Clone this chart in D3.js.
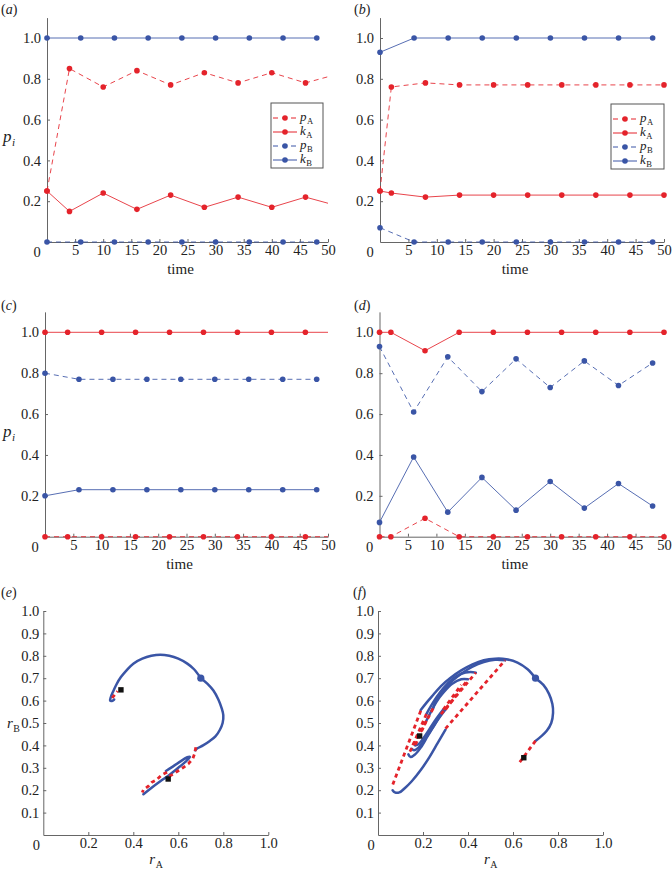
<!DOCTYPE html>
<html lang="en">
<head>
<meta charset="utf-8">
<title>strategy dynamics</title>
<script src="https://d3js.org/d3.v7.min.js"></script>
<style>
  body { margin: 0; background: #fff; }
  svg text { font-family: "Liberation Serif", "Times New Roman", "DejaVu Serif", serif; fill: #222; }
</style>
</head>
<body>
<svg id="chart" width="672" height="874"></svg>
<script>
// ---- time series data ----
var timeRed1 = [0, 4, 10, 16, 22, 28, 34, 40, 46, 50];
var timeRed2 = [0, 2, 8, 14, 20, 26, 32, 38, 44, 50];
var timeBlue = [0, 6, 12, 18, 24, 30, 36, 42, 48];

// (a)
var pA_a = [0.25, 0.85, 0.76, 0.84, 0.77, 0.83, 0.78, 0.83, 0.78, 0.81];
var kA_a = [0.25, 0.15, 0.24, 0.16, 0.23, 0.17, 0.22, 0.17, 0.22, 0.19];
var pB_a = [0, 0, 0, 0, 0, 0, 0, 0, 0];
var kB_a = [1, 1, 1, 1, 1, 1, 1, 1, 1];
// (b)
var pA_b = [0.25, 0.76, 0.78, 0.77, 0.77, 0.77, 0.77, 0.77, 0.77, 0.77];
var kA_b = [0.25, 0.24, 0.22, 0.23, 0.23, 0.23, 0.23, 0.23, 0.23, 0.23];
var pB_b = [0.07, 0, 0, 0, 0, 0, 0, 0, 0];
var kB_b = [0.93, 1, 1, 1, 1, 1, 1, 1, 1];
// (c)
var pA_c = [0, 0, 0, 0, 0, 0, 0, 0, 0, 0];
var kA_c = [1, 1, 1, 1, 1, 1, 1, 1, 1, 1];
var pB_c = [0.80, 0.77, 0.77, 0.77, 0.77, 0.77, 0.77, 0.77, 0.77];
var kB_c = [0.20, 0.23, 0.23, 0.23, 0.23, 0.23, 0.23, 0.23, 0.23];
// (d)
var pA_d = [0, 0, 0.09, 0, 0, 0, 0, 0, 0, 0];
var kA_d = [1, 1, 0.91, 1, 1, 1, 1, 1, 1, 1];
var pB_d = [0.93, 0.61, 0.88, 0.71, 0.87, 0.73, 0.86, 0.74, 0.85];
var kB_d = [0.07, 0.39, 0.12, 0.29, 0.13, 0.27, 0.14, 0.26, 0.15];

var timeTicks = [5, 10, 15, 20, 25, 30, 35, 40, 45, 50];
var pTicks = [0.2, 0.4, 0.6, 0.8, 1.0];
var rATicks = [0.2, 0.4, 0.6, 0.8, 1.0];
var rBTicks = [0.1, 0.2, 0.3, 0.4, 0.5, 0.6, 0.7, 0.8, 0.9, 1.0];

// ---- phase plane data, [rA, rB] ----
var startPoint = [0.70, 0.70];
// (e)
var eBlue = [
  [[0.70,0.70],[0.67,0.74],[0.64,0.765],[0.60,0.787],[0.56,0.80],[0.52,0.805],[0.48,0.80],[0.44,0.787],[0.40,0.765],[0.37,0.735],[0.345,0.705],[0.325,0.672],[0.31,0.64],[0.30,0.615],[0.297,0.60],[0.305,0.598],[0.315,0.605]],
  [[0.70,0.70],[0.73,0.675],[0.756,0.645],[0.778,0.605],[0.793,0.565],[0.80,0.535],[0.797,0.50],[0.785,0.47],[0.765,0.44],[0.74,0.42],[0.71,0.40],[0.685,0.387],[0.675,0.378]],
  [[0.445,0.182],[0.48,0.21],[0.52,0.24],[0.56,0.268],[0.60,0.30],[0.63,0.325],[0.652,0.348],[0.64,0.347],[0.60,0.322],[0.57,0.302],[0.545,0.286]]
];
var eRed = [
  [[0.306,0.612],[0.322,0.632],[0.33,0.642]],
  [[0.678,0.392],[0.672,0.362],[0.665,0.342],[0.645,0.318],[0.62,0.30],[0.60,0.287],[0.578,0.272],[0.56,0.262]],
  [[0.55,0.28],[0.526,0.268],[0.504,0.247],[0.482,0.235],[0.467,0.218],[0.445,0.202],[0.44,0.19]]
];
var eSquares = [[0.345,0.648],[0.555,0.25]];
// (f)
var fBlue = [
  [[0.70,0.70],[0.735,0.67],[0.76,0.63],[0.775,0.585],[0.778,0.545],[0.77,0.50],[0.75,0.465],[0.725,0.44],[0.70,0.42]],
  [[0.70,0.70],[0.665,0.74],[0.62,0.77],[0.57,0.785],[0.52,0.787],[0.47,0.78],[0.42,0.762],[0.37,0.735],[0.32,0.70],[0.28,0.665],[0.245,0.625],[0.215,0.59],[0.19,0.558]],
  [[0.065,0.20],[0.075,0.19],[0.095,0.19],[0.12,0.21],[0.15,0.24],[0.19,0.29],[0.23,0.35],[0.265,0.41],[0.30,0.47]],
  [[0.565,0.78],[0.52,0.782],[0.47,0.772],[0.42,0.752],[0.37,0.72],[0.33,0.688],[0.29,0.645],[0.26,0.605],[0.245,0.565]],
  [[0.135,0.36],[0.145,0.348],[0.165,0.36],[0.19,0.39],[0.22,0.44],[0.25,0.49],[0.28,0.54]],
  [[0.435,0.725],[0.41,0.728],[0.37,0.72],[0.33,0.695],[0.29,0.655],[0.26,0.615],[0.235,0.575],[0.215,0.54]],
  [[0.15,0.385],[0.16,0.378],[0.18,0.39],[0.21,0.43],[0.24,0.475],[0.27,0.52],[0.30,0.56]],
  [[0.40,0.695],[0.37,0.695],[0.33,0.675],[0.29,0.635],[0.26,0.595],[0.235,0.55],[0.215,0.51]],
  [[0.165,0.40],[0.18,0.405],[0.20,0.43],[0.23,0.475],[0.26,0.52],[0.29,0.56]]
];
var fRed = [
  [[0.70,0.42],[0.63,0.325]],
  [[0.19,0.555],[0.062,0.215]],
  [[0.30,0.475],[0.565,0.78]],
  [[0.245,0.565],[0.135,0.36]],
  [[0.28,0.54],[0.435,0.725]],
  [[0.215,0.54],[0.15,0.39]],
  [[0.30,0.56],[0.40,0.695]],
  [[0.215,0.51],[0.165,0.40]],
  [[0.29,0.56],[0.37,0.67]]
];
var fSquares = [[0.648,0.345],[0.185,0.442]];

var RED = "#e4232b", BLUE = "#3a55a6", AXIS = "#666";
var FONT = '"Liberation Serif", "Times New Roman", "DejaVu Serif", serif';
var svg = d3.select("#chart");

// italic symbol with a smaller subscript, as two separate text nodes
function subLabel(g, x, y, main, sub, size, subItalic) {
  var m = g.append("text").attr("x", x).attr("y", y).style("font-size", size + "px")
    .style("font-family", FONT).style("font-style", "italic").text(main);
  var w = m.node().getComputedTextLength();
  g.append("text").attr("x", x + w + 0.5).attr("y", y + size * 0.25).style("font-size", (size * 0.66) + "px")
    .style("font-family", FONT).style("font-style", subItalic ? "italic" : "normal").text(sub);
}

function panelLetter(x, y, letter) {
  var t = svg.append("text").attr("x", x).attr("y", y).style("font-size", "14px").style("font-family", FONT);
  t.append("tspan").text("(");
  t.append("tspan").style("font-style", "italic").text(letter);
  t.append("tspan").text(")");
}

function styleAxis(a) {
  a.attr("font-family", null);
  a.selectAll("path, line").attr("stroke", AXIS);
  a.selectAll("text").style("font-size", "14.5px").attr("fill", "#222").style("font-family", FONT);
}

function timePanel(cfg) {
  var x = d3.scaleLinear().domain([0, 50]).range([cfg.x0, cfg.x1]);
  var y = d3.scaleLinear().domain([0, 1]).range([cfg.y0, cfg.y1]);
  var g = svg.append("g");

  styleAxis(g.append("g").attr("transform", "translate(0," + cfg.y0 + ")")
    .call(d3.axisBottom(x).tickValues(timeTicks).tickSizeInner(-3).tickSizeOuter(0).tickPadding(3)));
  styleAxis(g.append("g").attr("transform", "translate(" + cfg.x0 + ",0)")
    .call(d3.axisLeft(d3.scaleLinear().domain([0, 1.1]).range([cfg.y0, y(1.1)]))
      .tickValues(pTicks).tickFormat(d3.format(".1f")).tickSizeInner(-3).tickSizeOuter(0).tickPadding(6)));
  g.append("text").attr("x", cfg.x0 - 10).attr("y", cfg.y0 + 15).attr("text-anchor", "middle")
    .style("font-size", "14.5px").style("font-family", FONT).text("0");
  g.append("text").attr("x", (cfg.x0 + cfg.x1) / 2 - 7).attr("y", cfg.y0 + 32).attr("text-anchor", "middle")
    .style("font-size", "15px").style("font-family", FONT).text("time");
  if (cfg.ylabel) subLabel(g, 3, (cfg.y0 + cfg.y1) / 2 + 2, "p", "i", 17, true);

  var line = d3.line().x(function(d) { return x(d[0]); }).y(function(d) { return y(d[1]); });
  cfg.series.forEach(function(s) {
    var pts = s.t.map(function(t, i) { return [t, s.v[i]]; });
    g.append("path").datum(pts).attr("d", line).attr("fill", "none")
      .attr("stroke", s.color).attr("stroke-width", 1)
      .attr("stroke-dasharray", s.dashed ? "5,4" : null).attr("opacity", 0.85);
    var marks = pts.filter(function(d, i) { return !(s.t.length === 10 && i === 9 && !cfg.tailMarker); });
    g.selectAll(null).data(marks).enter().append("circle")
      .attr("cx", function(d) { return x(d[0]); }).attr("cy", function(d) { return y(d[1]); })
      .attr("r", 2.8).attr("fill", s.color);
  });

  if (cfg.legend) {
    var L = cfg.legend;
    var lg = g.append("g").attr("transform", "translate(" + L.x + "," + L.y + ")");
    lg.append("rect").attr("width", L.w).attr("height", 65).attr("fill", "#fff").attr("stroke", "#555").attr("stroke-width", 1);
    var items = [["p", "A", RED, true], ["k", "A", RED, false], ["p", "B", BLUE, true], ["k", "B", BLUE, false]];
    items.forEach(function(it, i) {
      var yy = 15 + i * 14;
      lg.append("line").attr("x1", 2).attr("x2", 26).attr("y1", yy).attr("y2", yy)
        .attr("stroke", it[2]).attr("stroke-width", 1).attr("stroke-dasharray", it[3] ? "5,4" : null);
      lg.append("circle").attr("cx", 14).attr("cy", yy).attr("r", 2.8).attr("fill", it[2]);
      subLabel(lg, 29, yy + 3, it[0], it[1], 13, false);
    });
  }
}

function phasePanel(cfg) {
  var x = d3.scaleLinear().domain([0, 1]).range([cfg.x0, cfg.x0 + 225]);
  var y = d3.scaleLinear().domain([0, 1]).range([835, 611]);
  var g = svg.append("g");
  styleAxis(g.append("g").attr("transform", "translate(0,835)")
    .call(d3.axisBottom(x).tickValues(rATicks).tickFormat(d3.format(".1f")).tickSizeInner(-3).tickSizeOuter(0).tickPadding(3)));
  styleAxis(g.append("g").attr("transform", "translate(" + cfg.x0 + ",0)")
    .call(d3.axisLeft(y).tickValues(rBTicks).tickFormat(d3.format(".1f")).tickSizeInner(-3).tickSizeOuter(0).tickPadding(4)));
  g.append("text").attr("x", cfg.x0 - 7).attr("y", 850).attr("text-anchor", "middle")
    .style("font-size", "14.5px").style("font-family", FONT).text("0");
  subLabel(g, cfg.x0 + 106, 864, "r", "A", 15, false);
  if (cfg.ylabel) subLabel(g, 7, 728, "r", "B", 15, false);

  var curve = d3.line().x(function(d) { return x(d[0]); }).y(function(d) { return y(d[1]); }).curve(d3.curveCatmullRom);
  var straight = d3.line().x(function(d) { return x(d[0]); }).y(function(d) { return y(d[1]); });
  cfg.blue.forEach(function(p) {
    g.append("path").datum(p).attr("d", curve).attr("fill", "none").attr("stroke", BLUE)
      .attr("stroke-width", 2.5).attr("stroke-linecap", "round");
  });
  cfg.red.forEach(function(p) {
    g.append("path").datum(p).attr("d", straight).attr("fill", "none").attr("stroke", RED)
      .attr("stroke-width", 2.8).attr("stroke-dasharray", "4,3.5");
  });
  g.append("circle").attr("cx", x(startPoint[0])).attr("cy", y(startPoint[1])).attr("r", 3.6).attr("fill", BLUE);
  g.selectAll(null).data(cfg.squares).enter().append("rect")
    .attr("x", function(d) { return x(d[0]) - 2.7; }).attr("y", function(d) { return y(d[1]) - 2.7; })
    .attr("width", 5.4).attr("height", 5.4).attr("fill", "#111");
}

function seriesSet(tRed, pA, kA, pB, kB) {
  return [
    { t: tRed, v: pA, color: RED, dashed: true },
    { t: tRed, v: kA, color: RED, dashed: false },
    { t: timeBlue, v: pB, color: BLUE, dashed: true },
    { t: timeBlue, v: kB, color: BLUE, dashed: false }
  ];
}

timePanel({ x0: 47, x1: 328, y0: 242, y1: 38, ylabel: true, tailMarker: false,
  series: seriesSet(timeRed1, pA_a, kA_a, pB_a, kB_a), legend: { x: 271, y: 103, w: 52 } });
timePanel({ x0: 380, x1: 664, y0: 242, y1: 38, ylabel: false, tailMarker: true,
  series: seriesSet(timeRed2, pA_b, kA_b, pB_b, kB_b), legend: { x: 611, y: 104, w: 53 } });
timePanel({ x0: 45, x1: 328, y0: 536.7, y1: 332.3, ylabel: true, tailMarker: false,
  series: seriesSet(timeRed1, pA_c, kA_c, pB_c, kB_c) });
timePanel({ x0: 379.5, x1: 664, y0: 536.7, y1: 332.3, ylabel: false, tailMarker: true,
  series: seriesSet(timeRed2, pA_d, kA_d, pB_d, kB_d) });

phasePanel({ x0: 43.3, ylabel: true, blue: eBlue, red: eRed, squares: eSquares });
phasePanel({ x0: 378, ylabel: false, blue: fBlue, red: fRed, squares: fSquares });

panelLetter(1, 14, "a");
panelLetter(354, 14, "b");
panelLetter(1, 310, "c");
panelLetter(354, 310, "d");
panelLetter(1, 597, "e");
panelLetter(353, 597, "f");
</script>
</body>
</html>
